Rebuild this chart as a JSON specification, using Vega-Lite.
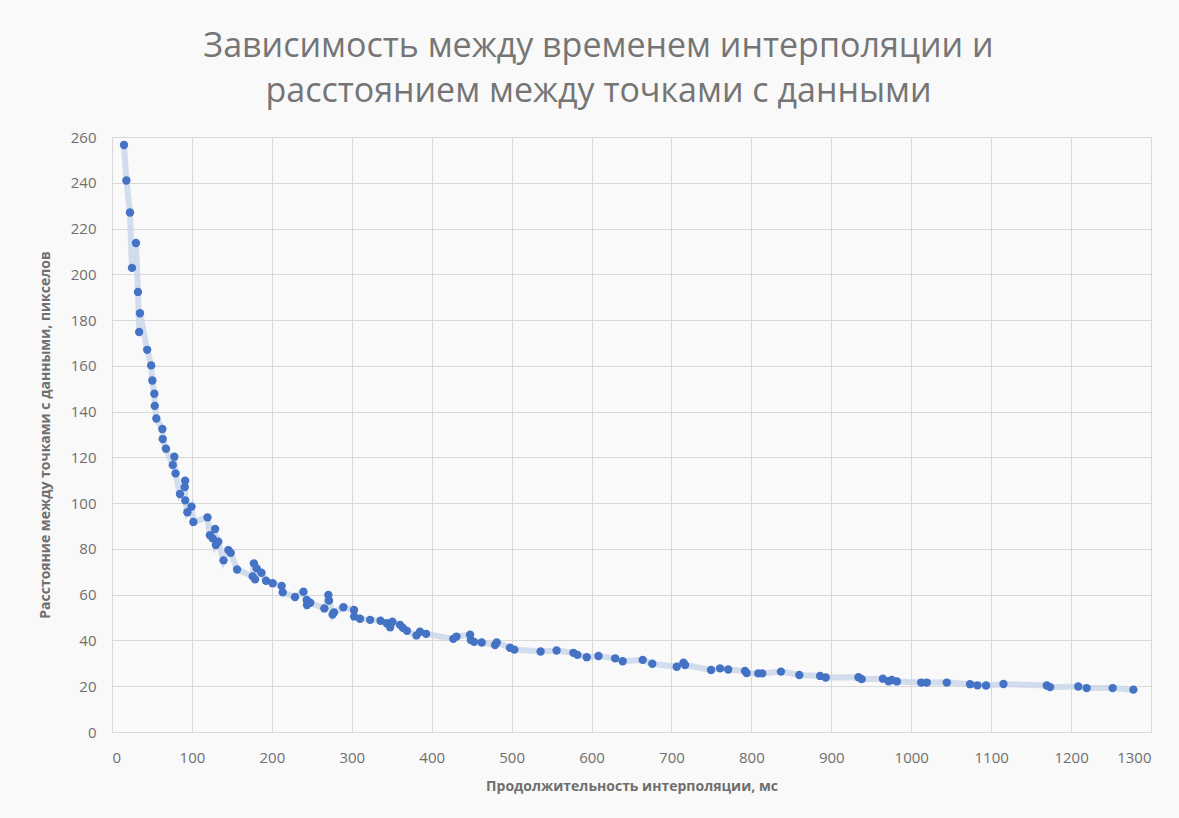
{
  "$schema": "https://vega.github.io/schema/vega-lite/v6.json",
  "autosize": "none",
  "width": 1039,
  "height": 595,
  "padding": {"left": 112, "top": 137, "right": 28, "bottom": 86},
  "background": "#f9f9f9",
  "config": {
    "view": {"stroke": null},
    "font": "Open Sans"
  },
  "title": {
    "text": ["Зависимость между временем интерполяции и", "расстоянием между точками с данными"],
    "fontSize": 34,
    "font": "Open Sans",
    "fontWeight": "normal",
    "color": "#757575",
    "lineHeight": 45,
    "offset": 21,
    "dx": -33,
    "anchor": "middle"
  },
  "data": {
    "values": [
      {"t":15,"d":256.5},{"t":18,"d":241},{"t":22.5,"d":227},{"t":25,"d":202.8},{"t":30,"d":213.7},{"t":32.5,"d":192.3},{"t":34,"d":174.8},{"t":35,"d":183},{"t":44,"d":167},{"t":49,"d":160.2},{"t":50.5,"d":153.6},{"t":53,"d":147.8},{"t":53.5,"d":142.5},{"t":55.5,"d":137},{"t":63,"d":132.4},{"t":63.5,"d":128},{"t":67.5,"d":123.8},{"t":76,"d":116.7},{"t":78,"d":120.3},{"t":79.5,"d":113},{"t":85,"d":104},{"t":91,"d":107},{"t":91.5,"d":109.8},{"t":91.6,"d":101.2},{"t":94.3,"d":96},{"t":99.5,"d":98.5},{"t":101.8,"d":91.8},{"t":119.5,"d":93.8},{"t":122.6,"d":86},{"t":126,"d":84.6},{"t":129,"d":88.7},{"t":130,"d":81.7},{"t":133,"d":83.2},{"t":139.5,"d":75},{"t":145.6,"d":79.5},{"t":148.5,"d":78.3},{"t":156.5,"d":71},{"t":176,"d":68},{"t":177.5,"d":73.7},{"t":179,"d":66.7},{"t":181,"d":71.5},{"t":187,"d":69.6},{"t":192.7,"d":66.1},{"t":201,"d":65},{"t":212.3,"d":63.8},{"t":213.6,"d":61},{"t":229,"d":59},{"t":239.5,"d":61.3},{"t":243.6,"d":57.7},{"t":244,"d":55.5},{"t":248,"d":56.5},{"t":265.7,"d":54},{"t":270.7,"d":59.9},{"t":271.5,"d":57.4},{"t":276,"d":51.3},{"t":277.7,"d":52.2},{"t":289.5,"d":54.5},{"t":302.8,"d":53.3},{"t":303,"d":50.5},{"t":310.3,"d":49.5},{"t":323,"d":49},{"t":336,"d":48.6},{"t":343.7,"d":47.5},{"t":348,"d":45.8},{"t":350.8,"d":48.2},{"t":360.4,"d":46.8},{"t":364,"d":45.5},{"t":369,"d":44.2},{"t":381,"d":42.2},{"t":385.4,"d":43.8},{"t":393,"d":42.9},{"t":427,"d":40.7},{"t":431,"d":41.7},{"t":448,"d":42.5},{"t":449,"d":40.2},{"t":453,"d":39.4},{"t":462.6,"d":39.1},{"t":479.3,"d":38},{"t":481.4,"d":39.1},{"t":498,"d":36.8},{"t":503.4,"d":36},{"t":536.3,"d":35.2},{"t":556.3,"d":35.6},{"t":577.3,"d":34.6},{"t":582.3,"d":33.7},{"t":594,"d":32.7},{"t":608.7,"d":33.2},{"t":629.5,"d":32.2},{"t":639,"d":30.9},{"t":664,"d":31.5},{"t":676,"d":29.8},{"t":706.6,"d":28.5},{"t":715,"d":30.3},{"t":717,"d":29.3},{"t":749.5,"d":27.1},{"t":760.8,"d":27.8},{"t":771,"d":27.3},{"t":792,"d":26.7},{"t":794,"d":25.8},{"t":808.6,"d":25.6},{"t":813.6,"d":25.6},{"t":837,"d":26.4},{"t":860,"d":24.9},{"t":886,"d":24.5},{"t":893,"d":23.8},{"t":934,"d":23.9},{"t":938,"d":23.1},{"t":964.5,"d":23.3},{"t":971.6,"d":22.2},{"t":975.7,"d":22.7},{"t":982,"d":22.1},{"t":1012.5,"d":21.6},{"t":1019.5,"d":21.6},{"t":1044.5,"d":21.6},{"t":1073.6,"d":20.9},{"t":1082.8,"d":20.4},{"t":1093.6,"d":20.3},{"t":1115.4,"d":21},{"t":1169.6,"d":20.3},{"t":1173.7,"d":19.6},{"t":1209,"d":19.9},{"t":1219.5,"d":19.2},{"t":1252,"d":19.2},{"t":1278,"d":18.5}
    ]
  },
  "encoding": {
    "x": {
      "field": "t", "type": "quantitative",
      "scale": {"domain": [0, 1300], "nice": false, "zero": true},
      "axis": {
        "values": [0,100,200,300,400,500,600,700,800,900,1000,1100,1200,1300],
        "format": "d",
        "title": "Продолжительность интерполяции, мс",
        "titleFontSize": 14, "titleFontWeight": "bold", "titleColor": "#6f6f6f", "titlePadding": 14,
        "labelFontSize": 15, "labelColor": "#6f6f6f", "labelPadding": 18,
        "ticks": false, "domain": true, "domainColor": "#d9d9d9",
        "gridColor": "#d9d9d9", "labelFont": "Open Sans", "titleFont": "Open Sans"
      }
    },
    "y": {
      "field": "d", "type": "quantitative",
      "scale": {"domain": [0, 260], "nice": false},
      "axis": {
        "values": [0,20,40,60,80,100,120,140,160,180,200,220,240,260],
        "format": "d",
        "title": "Расстояние между точками с данными, пикселов",
        "titleFontSize": 14, "titleFontWeight": "bold", "titleColor": "#6f6f6f", "titlePadding": 18,
        "labelFontSize": 15, "labelColor": "#6f6f6f", "labelPadding": 16,
        "ticks": false, "domain": false,
        "gridColor": "#d9d9d9", "labelFont": "Open Sans", "titleFont": "Open Sans"
      }
    }
  },
  "layer": [
    {
      "mark": {"type": "line", "color": "#c7d4ea", "strokeWidth": 6, "opacity": 0.8, "clip": true},
      "encoding": {"order": {"field": "t", "type": "quantitative"}}
    },
    {
      "mark": {"type": "circle", "color": "#4472c4", "size": 70, "opacity": 1}
    }
  ]
}
